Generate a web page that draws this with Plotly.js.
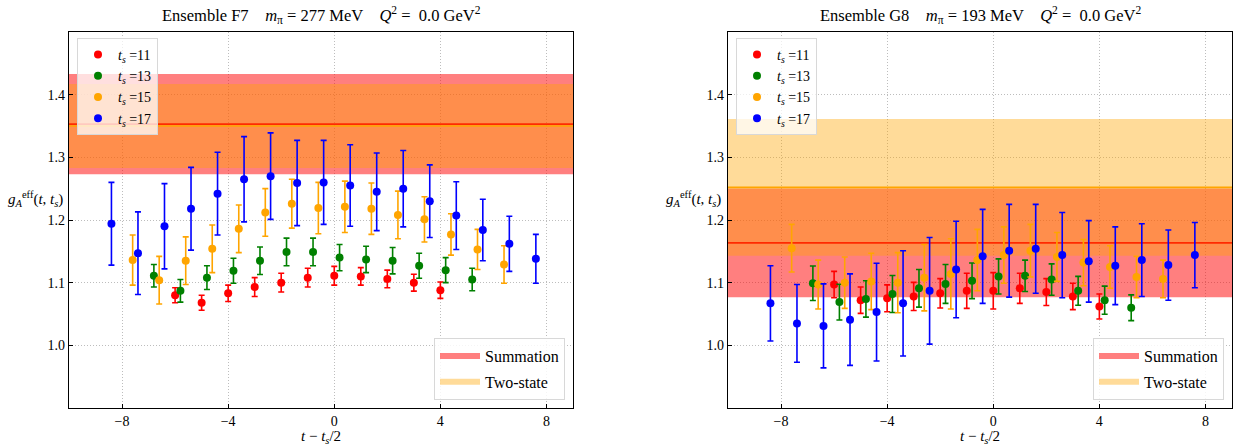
<!DOCTYPE html>
<html>
<head>
<meta charset="utf-8">
<script src="https://cdn.plot.ly/plotly-3.0.1.min.js"></script>
<style>html,body{margin:0;padding:0;background:#fff;}#chart{width:1240px;height:448px;}</style>
</head>
<body>
<div id="chart"></div>
<script>
// ---- data ----
const tsLabels = [11, 13, 15, 17];
const seriesColors = ['#ff0000', '#008000', '#ffa500', '#0000ff'];

const x11 = [-6, -5, -4, -3, -2, -1, 0, 1, 2, 3, 4];
const x13 = [-6.8, -5.8, -4.8, -3.8, -2.8, -1.8, -0.8, 0.2, 1.2, 2.2, 3.2, 4.2, 5.2];
const x15 = [-7.6, -6.6, -5.6, -4.6, -3.6, -2.6, -1.6, -0.6, 0.4, 1.4, 2.4, 3.4, 4.4, 5.4, 6.4];
const x17 = [-8.4, -7.4, -6.4, -5.4, -4.4, -3.4, -2.4, -1.4, -0.4, 0.6, 1.6, 2.6, 3.6, 4.6, 5.6, 6.6, 7.6];

// Ensemble F7
const f7_11 = [1.080, 1.068, 1.083, 1.093, 1.100, 1.108, 1.111, 1.110, 1.106, 1.100, 1.088];
const f7_11e = [0.012, 0.012, 0.013, 0.015, 0.015, 0.015, 0.015, 0.014, 0.014, 0.0135, 0.013];
const f7_13 = [1.111, 1.087, 1.108, 1.119, 1.135, 1.149, 1.149, 1.140, 1.137, 1.135, 1.127, 1.120, 1.105];
const f7_13e = [0.018, 0.018, 0.019, 0.020, 0.022, 0.022, 0.022, 0.021, 0.021, 0.021, 0.020, 0.020, 0.018];
const f7_15 = [1.136, 1.104, 1.135, 1.154, 1.186, 1.212, 1.226, 1.219, 1.221, 1.218, 1.208, 1.201, 1.177, 1.153, 1.129];
const f7_15e = [0.040, 0.038, 0.038, 0.038, 0.038, 0.038, 0.039, 0.041, 0.041, 0.041, 0.038, 0.036, 0.033, 0.032, 0.030];
const f7_17 = [1.194, 1.147, 1.190, 1.218, 1.242, 1.265, 1.270, 1.259, 1.260, 1.255, 1.245, 1.250, 1.230, 1.207, 1.184, 1.162, 1.138];
const f7_17e = [0.066, 0.066, 0.068, 0.066, 0.066, 0.068, 0.069, 0.068, 0.067, 0.065, 0.062, 0.061, 0.058, 0.054, 0.049, 0.044, 0.039];

// Ensemble G8
const g8_11 = [1.097, 1.072, 1.075, 1.078, 1.083, 1.087, 1.087, 1.091, 1.085, 1.078, 1.062];
const g8_11e = [0.021, 0.021, 0.0215, 0.0225, 0.0235, 0.028, 0.029, 0.024, 0.0215, 0.021, 0.020];
const g8_13 = [1.099, 1.069, 1.074, 1.082, 1.091, 1.098, 1.103, 1.110, 1.111, 1.105, 1.087, 1.072, 1.060];
const g8_13e = [0.0275, 0.0285, 0.029, 0.0295, 0.030, 0.031, 0.0285, 0.028, 0.025, 0.025, 0.023, 0.0225, 0.0205];
const g8_15 = [1.155, 1.097, 1.100, 1.102, 1.100, 1.108, 1.114, 1.136, 1.144, 1.151, 1.141, 1.132, 1.125, 1.109, 1.106];
const g8_15e = [0.038, 0.039, 0.041, 0.045, 0.048, 0.053, 0.056, 0.049, 0.045, 0.042, 0.039, 0.037, 0.034, 0.033, 0.030];
const g8_17 = [1.067, 1.035, 1.031, 1.041, 1.053, 1.067, 1.087, 1.121, 1.142, 1.151, 1.154, 1.144, 1.134, 1.127, 1.136, 1.128, 1.144];
const g8_17e = [0.060, 0.062, 0.067, 0.073, 0.078, 0.084, 0.085, 0.077, 0.075, 0.074, 0.071, 0.068, 0.065, 0.062, 0.058, 0.056, 0.052];

// fit bands: [central, error]
const f7Summation = [1.353, 0.080];
const f7TwoState = [1.350, 0.067];
const g8Summation = [1.1635, 0.0868];
const g8TwoState = [1.252, 0.109];

const xRange = [-10, 9];
const yRange = [0.9, 1.5];
const xTicks = [-8, -4, 0, 4, 8];
const yTicks = [1.0, 1.1, 1.2, 1.3, 1.4];
const bandNames = ['Summation', 'Two-state'];
const titles = [
  'Ensemble F7    <i>m</i><sub>π</sub> = 277 MeV    <i>Q</i><sup>2</sup> =  0.0 GeV<sup>2</sup>',
  'Ensemble G8    <i>m</i><sub>π</sub> = 193 MeV    <i>Q</i><sup>2</sup> =  0.0 GeV<sup>2</sup>'
];

// ---- build ----
const FONT = 'Liberation Serif, DejaVu Serif, serif';
const traces = [];

function addPanel(xa, ya, legS, legB, series, summ, two) {
  const bands = [summ, two];
  const fills = ['rgba(255,0,0,0.5)', 'rgba(255,165,0,0.4)'];
  const lineCols = ['#ff2a00', '#ffa500'];
  bands.forEach((b, i) => {
    const lo = b[0] - b[1], hi = b[0] + b[1];
    traces.push({
      type: 'scatter', mode: 'none', xaxis: xa, yaxis: ya,
      x: [xRange[0], xRange[1], xRange[1], xRange[0], xRange[0]],
      y: [lo, lo, hi, hi, lo],
      fill: 'toself', fillcolor: fills[i], name: bandNames[i],
      legend: legB, legendgroup: legB + i, hoverinfo: 'skip'
    });
  });
  [1, 0].forEach(i => {
    traces.push({
      type: 'scatter', mode: 'lines', xaxis: xa, yaxis: ya,
      x: xRange, y: [bands[i][0], bands[i][0]],
      line: {color: lineCols[i], width: 1.6}, showlegend: false, hoverinfo: 'skip'
    });
  });
  series.forEach((s, k) => {
    traces.push({
      type: 'scatter', mode: 'markers', xaxis: xa, yaxis: ya,
      x: s[0], y: s[1],
      error_y: {type: 'data', array: s[2], visible: true, color: seriesColors[k], thickness: 1.6, width: 3},
      marker: {color: seriesColors[k], size: 8},
      name: '<i>t<sub>s</sub></i> =' + tsLabels[k], legend: legS
    });
  });
}

addPanel('x', 'y', 'legend', 'legend2',
  [[x11, f7_11, f7_11e], [x13, f7_13, f7_13e], [x15, f7_15, f7_15e], [x17, f7_17, f7_17e]],
  f7Summation, f7TwoState);
addPanel('x2', 'y2', 'legend3', 'legend4',
  [[x11, g8_11, g8_11e], [x13, g8_13, g8_13e], [x15, g8_15, g8_15e], [x17, g8_17, g8_17e]],
  g8Summation, g8TwoState);

const W = 1240, H = 448;
const d1 = [69 / W, 573 / W], d2 = [728 / W, 1232 / W];
const yd = [1 - 408 / H, 1 - 32 / H];

function common() {
  return {
    ticks: 'inside', ticklen: 4, tickwidth: 1, tickcolor: '#000',
    showline: true, linecolor: '#000', linewidth: 1.2, mirror: true,
    showgrid: true, gridcolor: '#bdbdbd', griddash: '1px,2px', gridwidth: 1,
    zeroline: false, tickfont: {family: FONT, size: 14, color: '#000'}
  };
}
function xax(dom, anchor) {
  return Object.assign(common(), {domain: dom, anchor: anchor, range: xRange, tickvals: xTicks});
}
function yax(anchor) {
  return Object.assign(common(), {domain: yd, anchor: anchor, range: yRange, tickvals: yTicks, tickformat: '.1f'});
}
const legS = (x) => ({
  x: x, y: 1 - 38 / H, xanchor: 'left', yanchor: 'top',
  bgcolor: 'rgba(255,255,255,0.75)', bordercolor: '#d8d8d8', borderwidth: 1,
  font: {family: FONT, size: 14, color: '#000'}, tracegroupgap: 0, itemwidth: 30
});
const legB = (x) => ({
  x: x, y: 1 - 400 / H, xanchor: 'right', yanchor: 'bottom',
  bgcolor: 'rgba(255,255,255,0.85)', bordercolor: '#d8d8d8', borderwidth: 1,
  font: {family: FONT, size: 16, color: '#000'}, tracegroupgap: 2, itemwidth: 40
});

const ann = [];
[d1, d2].forEach((d, i) => {
  const c = (d[0] + d[1]) / 2;
  ann.push({xref: 'paper', yref: 'paper', x: c, y: 1 - 15 / H, text: titles[i], showarrow: false,
    xanchor: 'center', yanchor: 'middle', font: {family: FONT, size: 16.5, color: '#000'}});
  ann.push({xref: 'paper', yref: 'paper', x: c, y: 1 - 437 / H, text: '<i>t</i> − <i>t<sub>s</sub></i>/2', showarrow: false,
    xanchor: 'center', yanchor: 'middle', font: {family: FONT, size: 15, color: '#000'}});
  ann.push({xref: 'paper', yref: 'paper', x: d[0] - 34 / W, y: 1 - 199 / H,
    text: '<i>g</i><sub><i>A</i></sub><sup>eff</sup>(<i>t</i>, <i>t<sub>s</sub></i>)', showarrow: false,
    xanchor: 'center', yanchor: 'middle', font: {family: FONT, size: 15, color: '#000'}});
});

const layout = {
  width: W, height: H, margin: {l: 0, r: 0, t: 0, b: 0},
  paper_bgcolor: '#fff', plot_bgcolor: '#fff',
  xaxis: xax(d1, 'y'), yaxis: yax('x'),
  xaxis2: xax(d2, 'y2'), yaxis2: yax('x2'),
  legend: legS(77 / W), legend2: legB(565 / W),
  legend3: legS(736 / W), legend4: legB(1224 / W),
  annotations: ann, showlegend: true
};

Plotly.newPlot('chart', traces, layout, {displayModeBar: false, staticPlot: true});
</script>
</body>
</html>
